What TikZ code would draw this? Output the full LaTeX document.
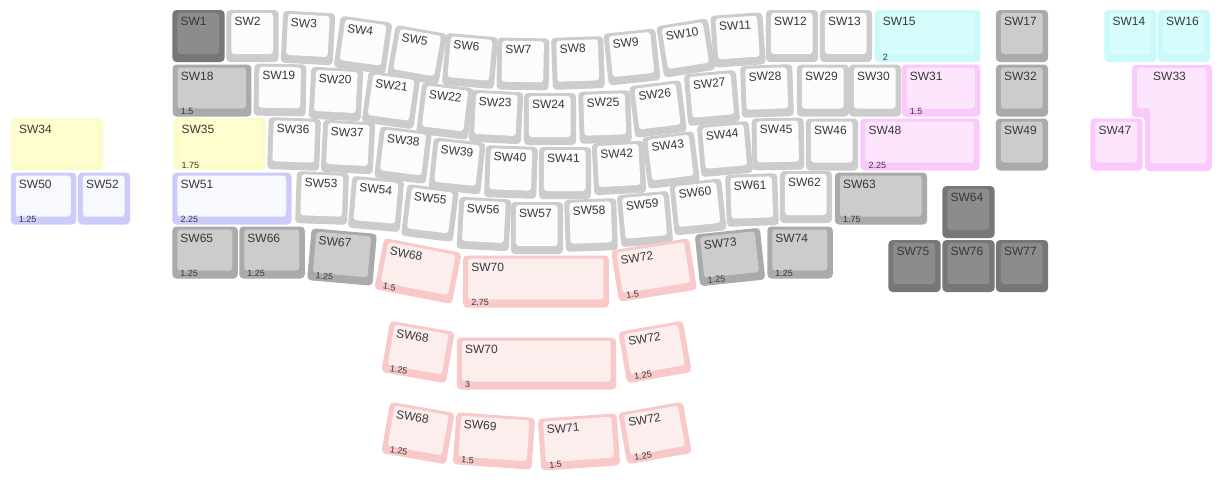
\documentclass[tikz,border=0pt]{standalone}
\usepackage{fontspec}
\setmainfont{Liberation Sans}
\definecolor{kwo}{HTML}{CCCCCC}\definecolor{kwi}{HTML}{FCFCFC}
\definecolor{kgo}{HTML}{AAAAAA}\definecolor{kgi}{HTML}{CCCCCC}
\definecolor{kdo}{HTML}{777777}\definecolor{kdi}{HTML}{8C8C8C}
\definecolor{kco}{HTML}{CAF9F9}\definecolor{kci}{HTML}{D6FCFC}
\definecolor{kpo}{HTML}{FBC8FB}\definecolor{kpi}{HTML}{FDE6FD}
\definecolor{kyo}{HTML}{FCFCCA}\definecolor{kyi}{HTML}{FEFECE}
\definecolor{klo}{HTML}{CCCCFC}\definecolor{kli}{HTML}{F8F8FF}
\definecolor{kro}{HTML}{F9C8C8}\definecolor{kri}{HTML}{FDEEEE}
\tikzset{
  lab/.style={anchor=base west,inner sep=0pt,font=\fontsize{12}{14}\selectfont,text=black!78},
  sub/.style={anchor=base west,inner sep=0pt,font=\fontsize{9}{10}\selectfont,text=black!78}
}
% #1 name, #2 cx, #3 cy, #4 width (u), #5 clockwise angle, #6 colour prefix, #7 label, #8 sublabel
\newcommand\kk[8]{%
\begin{scope}[shift={(#2,#3)},rotate=-#5]
\pgfmathsetmacro\hw{(#4*53.6-1.5)/2}
\fill[fill=k#6o,rounded corners=4pt] (-\hw,-26) rectangle (\hw,26);
\fill[fill=k#6i,rounded corners=3pt] (-\hw+5,-23) rectangle (\hw-5.5,18);
\node[lab,transform shape] (#1) at (-\hw+8,-10.5) {#7};
\if\relax\detokenize{#8}\relax\else
\node[sub,transform shape] (#1s) at (-\hw+8,24) {#8};\fi
\end{scope}}
\begin{document}
\begin{tikzpicture}[x=1pt,y=-1pt]
\useasboundingbox (0,0) rectangle (1221,485);
\fill[white] (0,0) rectangle (1221,485);
% row 1
\kk{sw1}{198.5}{36}{1}{0}{d}{SW1}{}
\kk{sw2}{252.5}{36}{1}{0}{w}{SW2}{}
\kk{sw3}{308}{38}{1}{3}{w}{SW3}{}
\kk{sw4}{363}{45}{1}{8}{w}{SW4}{}
\kk{sw5}{417}{55}{1}{10}{w}{SW5}{}
\kk{sw6}{470}{61}{1}{5}{w}{SW6}{}
\kk{sw7}{523}{64}{1}{1}{w}{SW7}{}
\kk{sw8}{578}{63}{1}{-2}{w}{SW8}{}
\kk{sw9}{632}{57}{1}{-6}{w}{SW9}{}
\kk{sw10}{686}{48}{1}{-9}{w}{SW10}{}
\kk{sw11}{738}{40}{1}{-4}{w}{SW11}{}
\kk{sw12}{792}{36}{1}{0}{w}{SW12}{}
\kk{sw13}{846}{36}{1}{0}{w}{SW13}{}
\kk{sw15}{927.5}{36}{2}{0}{c}{SW15}{2}
\kk{sw17}{1022}{36}{1}{0}{g}{SW17}{}
\kk{sw14}{1130.5}{36}{1}{0}{c}{SW14}{}
\kk{sw16}{1184}{36}{1}{0}{c}{SW16}{}
% row 2
\kk{sw18}{212}{90.5}{1.5}{0}{g}{SW18}{1.5}
\kk{sw19}{280}{90}{1}{1}{w}{SW19}{}
\kk{sw20}{336}{94}{1}{3}{w}{SW20}{}
\kk{sw21}{391}{100}{1}{8}{w}{SW21}{}
\kk{sw22}{445}{111}{1}{7}{w}{SW22}{}
\kk{sw23}{496}{117}{1}{3}{w}{SW23}{}
\kk{sw24}{550}{119}{1}{0}{w}{SW24}{}
\kk{sw25}{605}{117}{1}{-2}{w}{SW25}{}
\kk{sw26}{658}{109}{1}{-7}{w}{SW26}{}
\kk{sw27}{712}{98}{1}{-5}{w}{SW27}{}
\kk{sw28}{767}{91}{1}{-2}{w}{SW28}{}
\kk{sw29}{823}{90.5}{1}{0}{w}{SW29}{}
\kk{sw30}{875}{90.5}{1}{0}{w}{SW30}{}
\kk{sw31}{941}{90.5}{1.5}{0}{p}{SW31}{1.5}
\kk{sw32}{1022}{90.5}{1}{0}{g}{SW32}{}
% SW33 (ISO enter shape)
\fill[kpo,rounded corners=4pt] (1132,65) -- (1212,65) -- (1212,171) -- (1145,171) -- (1145,117) -- (1132,117) -- cycle;
\fill[kpi,rounded corners=3pt] (1137,68) -- (1206.5,68) -- (1206.5,163) -- (1150,163) -- (1150,108) -- (1137,108) -- cycle;
\node[lab] (sw33) at (1153,80) {SW33};
% row 3
\kk{sw34}{57}{144}{1.75}{0}{y}{SW34}{}
\kk{sw35}{219.5}{144}{1.75}{0}{y}{SW35}{1.75}
\kk{sw36}{294}{144}{1}{2}{w}{SW36}{}
\kk{sw37}{348}{147}{1}{3}{w}{SW37}{}
\kk{sw38}{403}{155}{1}{7}{w}{SW38}{}
\kk{sw39}{457}{166}{1}{6}{w}{SW39}{}
\kk{sw40}{511}{172}{1}{2}{w}{SW40}{}
\kk{sw41}{565}{173}{1}{0}{w}{SW41}{}
\kk{sw42}{619}{168}{1}{-3}{w}{SW42}{}
\kk{sw43}{671}{160}{1}{-7}{w}{SW43}{}
\kk{sw44}{725}{149}{1}{-5}{w}{SW44}{}
\kk{sw45}{778}{144}{1}{-1}{w}{SW45}{}
\kk{sw46}{832}{144.5}{1}{0}{w}{SW46}{}
\kk{sw48}{920}{144.5}{2.25}{0}{p}{SW48}{2.25}
\kk{sw49}{1022}{144.5}{1}{0}{g}{SW49}{}
\kk{sw47}{1116.5}{144.5}{1}{0}{p}{SW47}{}
% row 4
\kk{sw50}{43.5}{198.5}{1.25}{0}{l}{SW50}{1.25}
\kk{sw52}{104}{198.5}{1}{0}{l}{SW52}{}
\kk{sw51}{232}{198.5}{2.25}{0}{l}{SW51}{2.25}
\kk{sw53}{322}{198}{1}{2}{w}{SW53}{}
\kk{sw54}{376}{204}{1}{5}{w}{SW54}{}
\kk{sw55}{430}{213}{1}{7}{w}{SW55}{}
\kk{sw56}{484}{224}{1}{3}{w}{SW56}{}
\kk{sw57}{537}{228}{1}{0}{w}{SW57}{}
\kk{sw58}{591}{225}{1}{-2}{w}{SW58}{}
\kk{sw59}{645}{219}{1}{-5}{w}{SW59}{}
\kk{sw60}{698}{207}{1}{-6}{w}{SW60}{}
\kk{sw61}{752}{200}{1}{-2}{w}{SW61}{}
\kk{sw62}{806}{197}{1}{0}{w}{SW62}{}
\kk{sw63}{881}{198.5}{1.75}{0}{g}{SW63}{1.75}
\kk{sw64}{968.5}{212}{1}{0}{d}{SW64}{}
% row 5
\kk{sw65}{205}{252.5}{1.25}{0}{g}{SW65}{1.25}
\kk{sw66}{272}{252.5}{1.25}{0}{g}{SW66}{1.25}
\kk{sw67}{342}{257}{1.25}{5}{g}{SW67}{1.25}
\kk{sw68a}{418}{271}{1.5}{11}{r}{SW68}{1.5}
\kk{sw70a}{536}{281.5}{2.75}{0}{r}{SW70}{2.75}
\kk{sw72a}{654}{270}{1.5}{-9}{r}{SW72}{1.5}
\kk{sw73}{730}{257}{1.25}{-6}{g}{SW73}{1.25}
\kk{sw74}{800}{252.5}{1.25}{0}{g}{SW74}{1.25}
\kk{sw75}{914.5}{266}{1}{0}{d}{SW75}{}
\kk{sw76}{968.5}{266}{1}{0}{d}{SW76}{}
\kk{sw77}{1022}{266}{1}{0}{d}{SW77}{}
% row 6
\kk{sw68b}{418}{352}{1.25}{10}{r}{SW68}{1.25}
\kk{sw70b}{536.5}{363.5}{3}{0}{r}{SW70}{3}
\kk{sw72b}{655}{352}{1.25}{-10}{r}{SW72}{1.25}
% row 7
\kk{sw68c}{418}{433}{1.25}{10}{r}{SW68}{1.25}
\kk{sw69}{494}{441}{1.5}{4}{r}{SW69}{1.5}
\kk{sw71}{579}{442}{1.5}{-4}{r}{SW71}{1.5}
\kk{sw72c}{655}{433}{1.25}{-10}{r}{SW72}{1.25}
\end{tikzpicture}
\end{document}
